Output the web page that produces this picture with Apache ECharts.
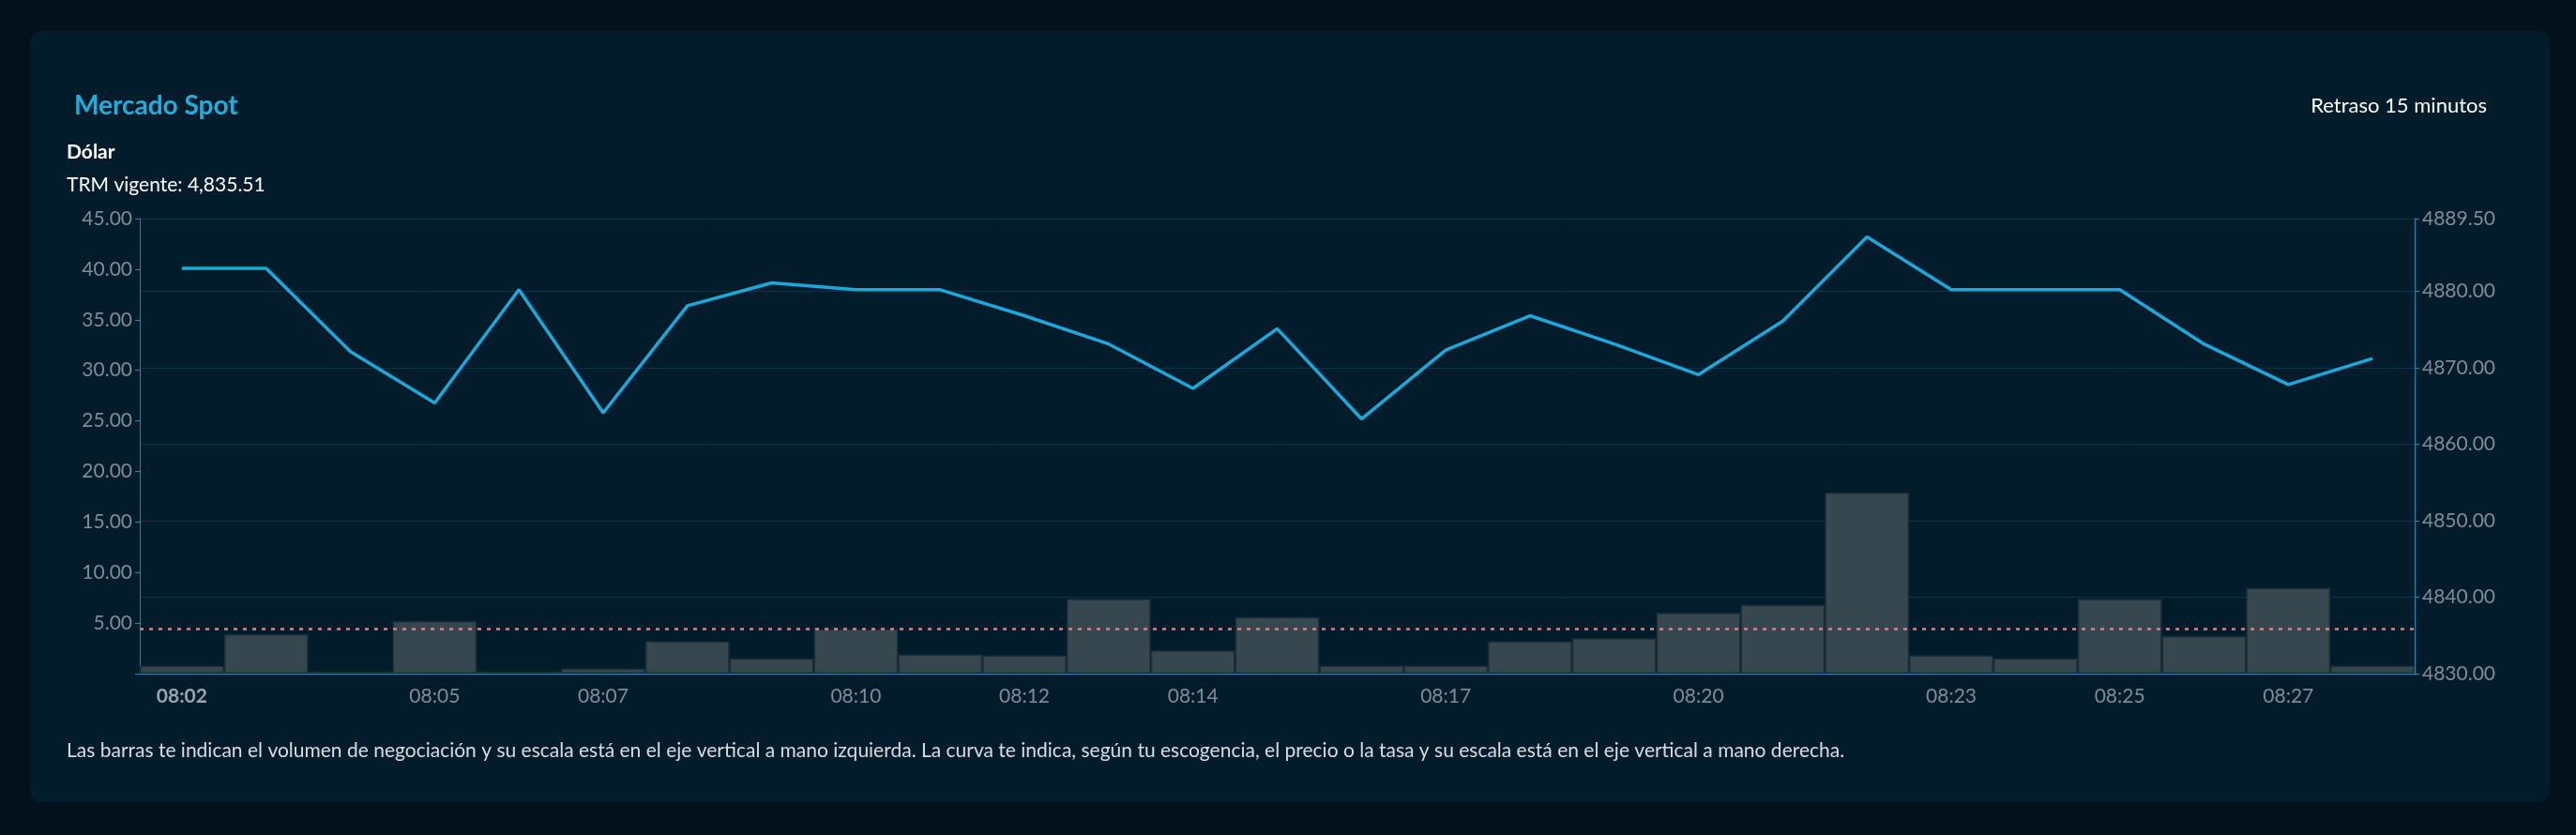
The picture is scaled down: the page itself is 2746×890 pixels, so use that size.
<!DOCTYPE html>
<html><head><meta charset="utf-8">
<script src="https://cdn.jsdelivr.net/npm/echarts@6/dist/echarts.min.js"></script>
<style>html,body{margin:0;padding:0;background:#02111b;}#c{width:2746px;height:890px;}</style>
</head><body><div id="c"></div>
<script>
const categories = ['08:02','08:03','08:04','08:05','08:06','08:07','08:08','08:09','08:10','08:11','08:12','08:13','08:14','08:15','08:16','08:17','08:18','08:19','08:20','08:21','08:22','08:23','08:24','08:25','08:26','08:27','08:28'];
const volumes = [0.8,3.9,0.2,5.2,0.2,0.5,3.2,1.5,4.4,1.9,1.8,7.4,2.3,5.6,0.8,0.8,3.2,3.5,6.0,6.8,17.9,1.8,1.5,7.4,3.7,8.5,0.8];
const prices = [4883.0,4883.0,4872.1,4865.4,4880.2,4864.1,4878.1,4881.1,4880.2,4880.2,4876.8,4873.1,4867.3,4875.1,4863.3,4872.3,4876.8,4873.1,4869.1,4876.1,4887.1,4880.2,4880.2,4880.2,4873.1,4867.8,4871.2];
const shownLabels = [0,3,5,8,10,12,15,18,21,23,25];
const avgVolume = 4.4;
const font = 'Lato';
const chart = echarts.init(document.getElementById('c'));
chart.setOption({
  backgroundColor:'#02111b',
  graphic:[{type:'rect',z:-10,shape:{x:32,y:33,width:2686,height:822,r:12},style:{fill:'#031c2c'}}],
  title:[
    {text:'Mercado Spot',left:74,top:94,textStyle:{color:'#1eaedb',fontSize:28,fontWeight:'bold',fontFamily:font}},
    {text:'Retraso 15 minutos',right:90,top:97,textStyle:{color:'#ffffff',fontSize:22,fontWeight:'normal',fontFamily:font}},
    {text:'Dólar',left:66,top:147,textStyle:{color:'#ffffff',fontSize:21,fontWeight:'bold',fontFamily:font}},
    {text:'TRM vigente: 4,835.51',left:66,top:182,textStyle:{color:'#ffffff',fontSize:21,fontWeight:'normal',fontFamily:font}},
    {text:'Las barras te indican el volumen de negociación y su escala está en el eje vertical a mano izquierda. La curva te indica, según tu escogencia, el precio o la tasa y su escala está en el eje vertical a mano derecha.',left:66,top:785,textStyle:{color:'#d8dde2',fontSize:21,fontWeight:'normal',fontFamily:font}}
  ],
  grid:{left:149,right:172,top:233,bottom:172},
  xAxis:{type:'category',data:categories,
    axisLine:{lineStyle:{color:'#1b88b0'}},
    axisTick:{alignWithLabel:true,interval:(i)=>shownLabels.includes(i),lineStyle:{color:'#1b88b0'}},
    axisLabel:{interval:(i)=>shownLabels.includes(i),color:'#7f8c97',fontSize:21,fontFamily:font,margin:14,
      formatter:(v,i)=>i===0?'{b|'+v+'}':v,rich:{b:{fontWeight:'bold',color:'#9aa5ae',fontSize:21,fontFamily:font}}}},
  yAxis:[
    {type:'value',min:0,max:45,interval:5,position:'left',
      axisLine:{show:true,lineStyle:{color:'#1b88b0'}},axisTick:{show:true,lineStyle:{color:'#1b88b0'}},
      splitLine:{show:false},
      axisLabel:{color:'#7f8c97',fontSize:21,fontFamily:font,formatter:v=>v===0?'':v.toFixed(2)}},
    {type:'value',min:4830,max:4889.5,interval:10,position:'right',
      axisLine:{show:true,lineStyle:{color:'#1b88b0'}},axisTick:{show:true,lineStyle:{color:'#1b88b0'}},
      splitLine:{show:true,lineStyle:{color:'#0e3247'}},
      axisLabel:{color:'#7f8c97',fontSize:21,fontFamily:font,formatter:v=>v.toFixed(2)}}
  ],
  series:[
    {type:'bar',data:volumes,yAxisIndex:0,barCategoryGap:'0%',
      itemStyle:{color:'#37474f',borderColor:'#1d2e39',borderWidth:1.5},
      markLine:{silent:true,symbol:'none',label:{show:false},
        lineStyle:{color:'#e77f7f',type:[4,6],width:2.5},data:[{yAxis:avgVolume}]}},
    {type:'line',data:prices,yAxisIndex:1,showSymbol:false,lineStyle:{color:'#1aa9dc',width:3.5},itemStyle:{color:'#1aa9dc'}}
  ]
});
</script></body></html>
